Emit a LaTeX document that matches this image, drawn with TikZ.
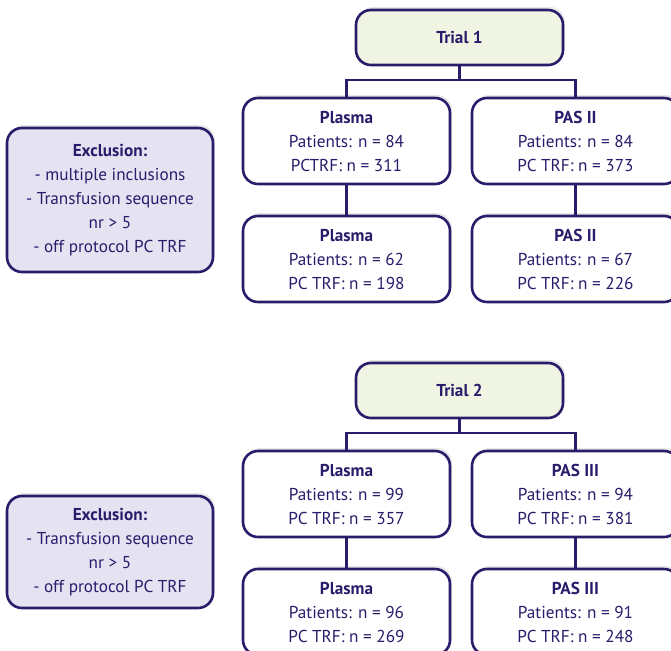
\documentclass[tikz,border=0pt]{standalone}
\usepackage{fontspec}
\setmainfont{PT Sans}
\usetikzlibrary{shadows}
\definecolor{navy}{HTML}{2A1B6B}
\definecolor{trialfill}{HTML}{F0F4E3}
\definecolor{exfill}{HTML}{E5E3F1}
\begin{document}
\begin{tikzpicture}[x=1pt,y=-1pt,
  box/.style={draw=navy, line width=2.6, rounded corners=15, fill=white, text=navy,
    minimum width=207, minimum height=86, align=center, inner sep=0,
    font=\fontsize{17.2}{24}\selectfont,
    drop shadow={opacity=0.18, shadow xshift=2, shadow yshift=-3}},
  trialbox/.style={box, fill=trialfill, minimum height=55},
  exbox/.style={box, fill=exfill, minimum width=206},
  conn/.style={draw=navy, line width=2.6}]
\useasboundingbox (0,0) rectangle (671,650);
% Trial 1
\node[trialbox] (t1) at (459.5,37.5) {\bfseries Trial 1};
\node[box] (p1) at (346.5,141) {\bfseries Plasma\\Patients: n = 84\\PCTRF: n = 311};
\node[box] (a1) at (575.5,141) {\bfseries PAS II\\Patients: n = 84\\PC TRF: n = 373};
\node[box] (p1b) at (346.5,259) {\bfseries Plasma\\Patients: n = 62\\PC TRF: n = 198};
\node[box] (a1b) at (575.5,259) {\bfseries PAS II\\Patients: n = 67\\PC TRF: n = 226};
\node[exbox, minimum height=144] (e1) at (110,200) {\bfseries Exclusion:\\- multiple inclusions\\- Transfusion sequence\\nr > 5\\- off protocol PC TRF};
\coordinate (j1) at (459.5,80);
\draw[conn] (t1.south) -- (j1);
\draw[conn] (p1.north) |- (j1) -| (a1.north);
\draw[conn] (p1.south) -- (p1b.north);
\draw[conn] (a1.south) -- (a1b.north);
% Trial 2
\node[trialbox] (t2) at (459.5,390.5) {\bfseries Trial 2};
\node[box] (p2) at (346.5,494) {\bfseries Plasma\\Patients: n = 99\\PC TRF: n = 357};
\node[box] (a2) at (575.5,494) {\bfseries PAS III\\Patients: n = 94\\PC TRF: n = 381};
\node[box] (p2b) at (346.5,612) {\bfseries Plasma\\Patients: n = 96\\PC TRF: n = 269};
\node[box] (a2b) at (575.5,612) {\bfseries PAS III\\Patients: n = 91\\PC TRF: n = 248};
\node[exbox, minimum height=112] (e2) at (110,552) {\bfseries Exclusion:\\- Transfusion sequence\\nr > 5\\- off protocol PC TRF};
\coordinate (j2) at (459.5,433);
\draw[conn] (t2.south) -- (j2);
\draw[conn] (p2.north) |- (j2) -| (a2.north);
\draw[conn] (p2.south) -- (p2b.north);
\draw[conn] (a2.south) -- (a2b.north);
\end{tikzpicture}
\end{document}
